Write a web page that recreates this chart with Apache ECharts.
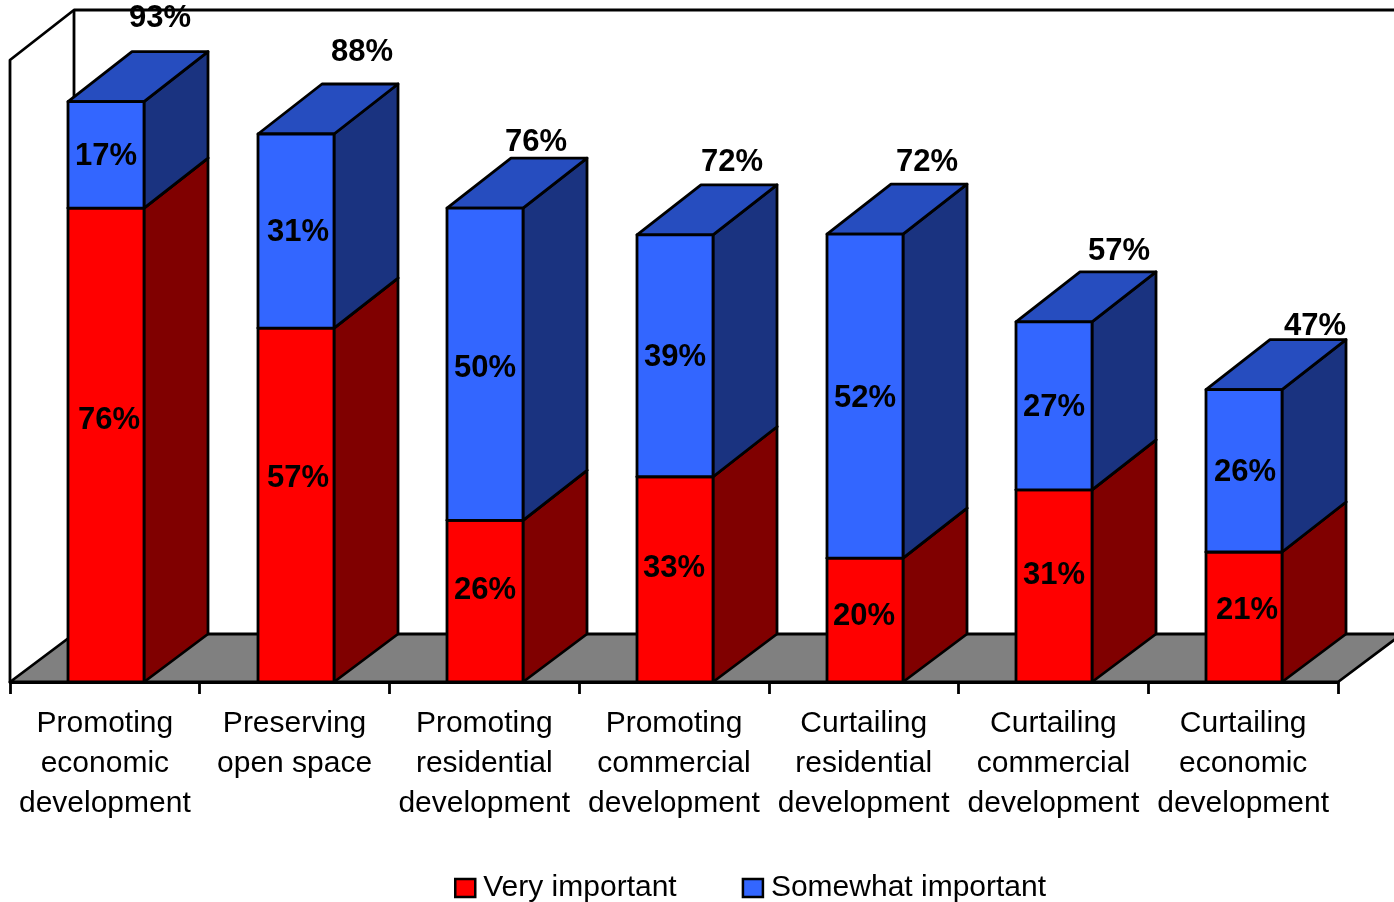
<!DOCTYPE html>
<html>
<head>
<meta charset="utf-8">
<style>html,body{margin:0;padding:0;background:#fff}#c{width:1394px;height:902px}</style>
<script src="https://cdn.jsdelivr.net/npm/echarts@6/dist/echarts.min.js"></script>
</head>
<body>
<div id="c"></div>
<script>
var categories = [
  'Promoting\neconomic\ndevelopment',
  'Preserving\nopen space',
  'Promoting\nresidential\ndevelopment',
  'Promoting\ncommercial\ndevelopment',
  'Curtailing\nresidential\ndevelopment',
  'Curtailing\ncommercial\ndevelopment',
  'Curtailing\neconomic\ndevelopment'
];
var veryImportant = [76.2, 56.9, 26, 33, 19.9, 30.9, 20.9];
var somewhatImportant = [17.1, 31.2, 50.2, 38.9, 52.1, 27, 26.1];
var totalLabels = [93, 88, 76, 72, 72, 57, 47];

// hand-placed offsets of the labels, in pixels
var totalLabelDx = [54, 66, 51, 57, 62, 65, 71];
var totalLabelDy = [-83, -82, -66, -72, -72, -70, -63];
var redLabelDx = [3, 2, 0, -1, -1, 0, 3];
var redLabelDy = [-25, -27, -11, -11, -4, -10, -7];
var blueLabelDx = [0, 2, 0, 0, 0, 0, 1];
var blueLabelDy = [2, 1, 4, 2, 2, 2, 2];

var DEPTH_X = 64, FLOOR_RISE = 48, TOP_RISE = 50, BAR_RATIO = 0.4;
var FONT = '"Liberation Sans", Arial, sans-serif';
var LINE_WIDTH = 2.8;

function poly(points, fill) {
  return {type: 'polygon', shape: {points: points},
    style: {fill: fill, stroke: '#000', lineWidth: LINE_WIDTH, lineJoin: 'round'}};
}
function boldText(text, x, y) {
  return {type: 'text', z2: 20, style: {text: text, x: x, y: y, fill: '#000',
    font: 'bold 31px ' + FONT, align: 'center', verticalAlign: 'middle'}};
}

function barRenderer(colors, labelDx, labelDy, withTotals) {
  return function (params, api) {
    var i = api.value(0);
    var base = api.coord([i, api.value(1)]);
    var top = api.coord([i, api.value(2)]);
    var w = api.size([1, 0])[0] * BAR_RATIO;
    var x1 = Math.round(base[0] - w / 2 + 1), x2 = x1 + Math.round(w);
    var yb = base[1], yt = top[1];
    var riseB = api.value(1) === 0 ? FLOOR_RISE : TOP_RISE;
    var cx = (x1 + x2) / 2;
    var kids = [
      poly([[x2, yb], [x2 + DEPTH_X, yb - riseB], [x2 + DEPTH_X, yt - TOP_RISE], [x2, yt]], colors.side),
      poly([[x1, yt], [x1 + DEPTH_X, yt - TOP_RISE], [x2 + DEPTH_X, yt - TOP_RISE], [x2, yt]], colors.top),
      poly([[x1, yb], [x2, yb], [x2, yt], [x1, yt]], colors.front),
      boldText(Math.round(api.value(2) - api.value(1)) + '%', cx + labelDx[i], (yb + yt) / 2 + labelDy[i])
    ];
    if (withTotals) {
      kids.push(boldText(totalLabels[i] + '%', cx + totalLabelDx[i], yt + totalLabelDy[i]));
    }
    return {type: 'group', children: kids};
  };
}

function backdrop(params) {
  var c = params.coordSys;
  var L = c.x, R = c.x + c.width, T = c.y, B = c.y + c.height;
  return {type: 'group', children: [
    poly([[L, B], [R, B], [R + DEPTH_X, B - FLOOR_RISE], [L + DEPTH_X, B - FLOOR_RISE]], '#808080'),
    {type: 'polyline', shape: {points: [[L, B], [L, T], [L + DEPTH_X, T - TOP_RISE], [R + DEPTH_X, T - TOP_RISE]]},
      style: {fill: null, stroke: '#000', lineWidth: LINE_WIDTH, lineJoin: 'round'}},
    {type: 'line', shape: {x1: L + DEPTH_X, y1: T - TOP_RISE, x2: L + DEPTH_X, y2: B - FLOOR_RISE},
      style: {stroke: '#000', lineWidth: LINE_WIDTH}}
  ]};
}

var redRows = veryImportant.map(function (v, i) { return [i, 0, v]; });
var blueRows = somewhatImportant.map(function (v, i) { return [i, veryImportant[i], veryImportant[i] + v]; });

var chart = echarts.init(document.getElementById('c'));
chart.setOption({
  animation: false,
  backgroundColor: '#fff',
  grid: {left: 10, right: 56, top: 60, bottom: 220, containLabel: false},
  xAxis: {
    type: 'category', data: categories, boundaryGap: true,
    axisLine: {lineStyle: {color: '#000', width: LINE_WIDTH}},
    axisTick: {show: true, length: 12, lineStyle: {color: '#000', width: LINE_WIDTH}, alignWithLabel: false},
    axisLabel: {interval: 0, color: '#000', fontFamily: FONT, fontSize: 30, lineHeight: 40, margin: 22, hideOverlap: false},
    splitLine: {show: false}
  },
  yAxis: {type: 'value', min: 0, max: 100, show: false, splitLine: {show: false}},
  legend: {
    data: ['Very important', 'Somewhat important'],
    left: 454, top: 873, padding: 0, itemWidth: 20, itemHeight: 18, itemGap: 65,
    icon: 'rect', selectedMode: false,
    itemStyle: {borderColor: '#000', borderWidth: 2.5},
    textStyle: {color: '#000', fontFamily: FONT, fontSize: 30, padding: [0, 0, 0, 3]}
  },
  series: [
    {type: 'custom', name: 'backdrop', coordinateSystem: 'cartesian2d', data: [[0, 0, 0]], z: 1, silent: true,
      encode: {x: 0, y: 1}, renderItem: backdrop},
    {type: 'custom', name: 'Very important', coordinateSystem: 'cartesian2d', data: redRows, z: 2,
      encode: {x: 0, y: [1, 2]}, itemStyle: {color: '#FF0000'},
      renderItem: barRenderer({front: '#FF0000', side: '#800000', top: '#BF0000'}, redLabelDx, redLabelDy, false)},
    {type: 'custom', name: 'Somewhat important', coordinateSystem: 'cartesian2d', data: blueRows, z: 3,
      encode: {x: 0, y: [1, 2]}, itemStyle: {color: '#3366FF'},
      renderItem: barRenderer({front: '#3366FF', side: '#1A3380', top: '#264DBF'}, blueLabelDx, blueLabelDy, true)}
  ]
});
</script>
</body>
</html>
